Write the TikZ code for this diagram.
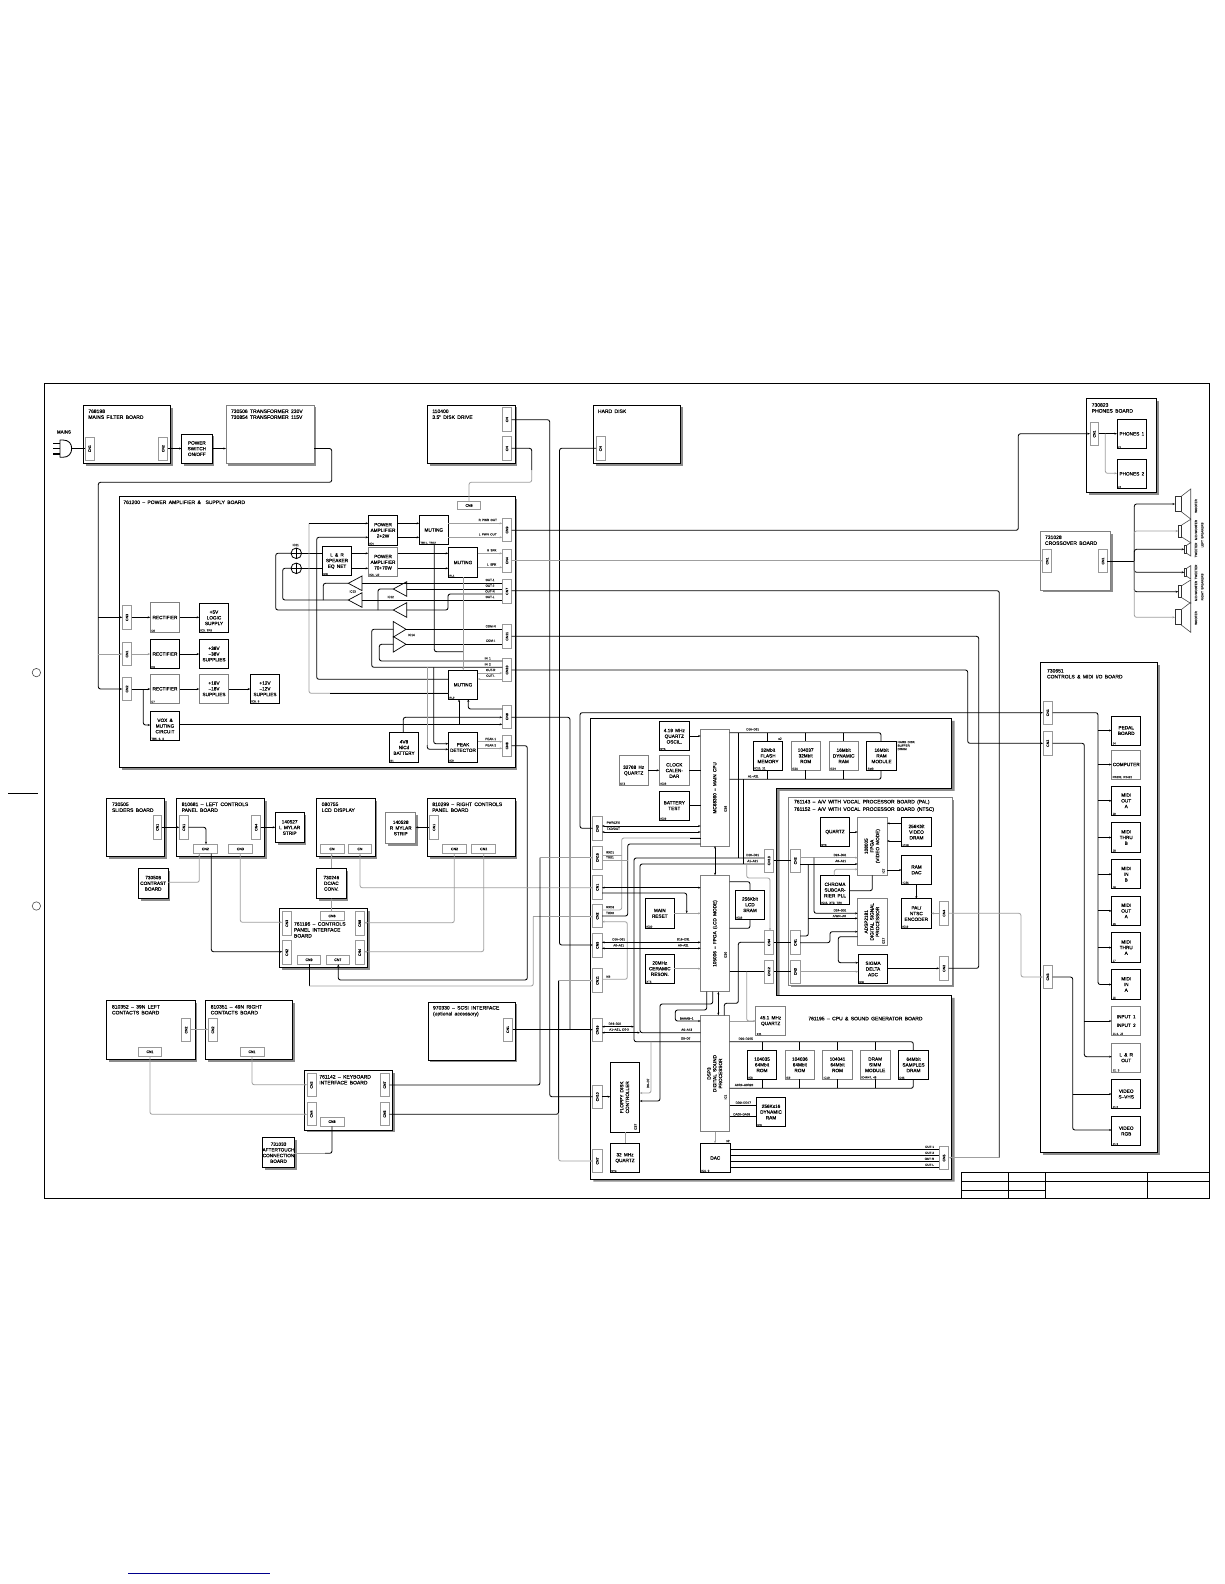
\documentclass[tikz,border=0pt]{standalone}
\usepackage{fontspec}
\setmainfont{Liberation Sans}[FakeBold=0.2,WordSpace=1.7]
\usetikzlibrary{arrows.meta,shadows}
\newcount\autoN
\def\pE#1#2{#1.east|-0,#2}
\def\pW#1#2{#1.west|-0,#2}
\def\pN#1#2{#2,0|-#1.north}
\def\pS#1#2{#2,0|-#1.south}
\tikzset{
 base/.style={inner sep=0pt,outer sep=0pt},
 ln/.style={line width=.85pt,draw=black,line join=round},
 gl/.style={line width=.8pt,draw=gray!75,line join=round},
 rc/.style={rounded corners=2.2pt},
 arr/.style={-{Stealth[length=2.6pt,width=2pt]}},
 rar/.style={{Stealth[length=2.6pt,width=2pt]}-},
 bar/.style={{Stealth[length=2.6pt,width=2pt]}-{Stealth[length=2.6pt,width=2pt]}},
 bk/.style={base,draw=black,fill=white,line width=.9pt,align=center,font=\fontsize{4.7}{5.7}\selectfont},
 gb/.style={bk,draw=gray},
 sbk/.style={bk,drop shadow={shadow xshift=2.4pt,shadow yshift=-2.4pt,fill=gray!90,opacity=1}},
 sgb/.style={sbk,draw=gray},
 cnb/.style={base,draw=gray!80,line width=.7pt,fill=white,font=\fontsize{3.5}{4}\selectfont},
 ics/.style={base,font=\fontsize{2.8}{3.2}\selectfont,text=black!80,align=left},
 ttl/.style={base,anchor=north west,align=left,font=\fontsize{5}{5.9}\selectfont},
 sm/.style={base,font=\fontsize{3}{3.5}\selectfont,text=black!85},
}
\newcommand{\mk}[7][bk]{\pgfmathsetmacro\bxW{#5-#3}\pgfmathsetmacro\bxH{#6-#4}\pgfmathsetmacro\bxX{(#3+#5)/2}\pgfmathsetmacro\bxY{(#4+#6)/2}\node[#1,minimum width=\bxW pt,minimum height=\bxH pt] (#2) at (\bxX,\bxY) {#7};}
\newcommand{\bx}[8][bk]{\mk[#1]{#2}{#3}{#4}{#5}{#6}{#7}\node[ics,anchor=south west] (#2-ic) at ([shift={(1pt,.6pt)}]#2.south west) {#8};}
\newcommand{\brd}[6][sbk]{\mk[#1]{#2}{#3}{#4}{#5}{#6}{}}
\newcommand{\cnv}[6]{\mk[cnb]{#1}{#2}{#3}{#4}{#5}{\rotatebox{90}{#6}}}
\newcommand{\cnh}[6]{\mk[cnb]{#1}{#2}{#3}{#4}{#5}{#6}}
\newcommand{\tl}[3]{\global\advance\autoN by 1 \node[ttl] (t\the\autoN) at (#1,#2) {#3};}
\newcommand{\lb}[3]{\global\advance\autoN by 1 \node[sm] (t\the\autoN) at (#1,#2) {#3};}
\newcommand{\lbr}[3]{\global\advance\autoN by 1 \node[sm,rotate=90] (t\the\autoN) at (#1,#2) {#3};}
\newcommand{\rt}[1]{\rotatebox{90}{\begin{tabular}{@{}c@{}}#1\end{tabular}}}
\newcommand{\tri}[5]{\coordinate (#1-t) at (#2,#4);\coordinate (#1-b) at (#3,#4);\draw[line width=.7pt,fill=white] (#2,#4) -- (#3,{#4-#5}) -- (#3,{#4+#5}) -- cycle;}
\newcommand{\spk}[6]{\coordinate (#1) at (#3,#2);\draw[line width=.7pt,draw=black!80] (#3,{#2-#5}) rectangle (#4,{#2+#5});\draw[line width=.6pt,draw=black!70] (#4,{#2-#5}) -- (1190.7,{#2-#6}) -- (1190.7,{#2+#6}) -- (#4,{#2+#5});}
\begin{document}
\begin{tikzpicture}[x=1pt,y=-1pt]
\useasboundingbox (0,0) rectangle (1224,1584);
\fill[white] (0,0) rectangle (1224,1584);
% page marks
\draw[line width=.6pt,draw=black!70] (36.4,672.6) circle[radius=4.2];
\draw[line width=.6pt,draw=black!70] (36.4,906) circle[radius=4.2];
\draw[line width=.6pt] (8,793) -- (38,793);
\draw[line width=.7pt,draw=blue!55!black] (128,1573.5) -- (270,1573.5);
% frame and title block
\draw[line width=.9pt] (44,383.6) rectangle (1209.3,1198.6);
\draw[line width=.8pt] (961.3,1198.6) -- (961.3,1172.3) -- (1209.3,1172.3);
\draw[line width=.8pt] (961.3,1181.3) -- (1209.3,1181.3);
\draw[line width=.8pt] (961.3,1190) -- (1045.3,1190);
\draw[line width=.8pt] (1008.3,1172.3) -- (1008.3,1198.6);
\draw[line width=.8pt] (1045.3,1172.3) -- (1045.3,1198.6);
\draw[line width=.8pt] (1147.3,1172.3) -- (1147.3,1198.6);
% ---------- top row
\brd{mains}{83.3}{405.3}{170.7}{463.3}
\tl{88.3}{409.5}{768198\\MAINS FILTER BOARD}
\cnv{mcn1}{85}{437.3}{94.3}{460}{CN1}
\cnv{mcn2}{158.7}{437.3}{167.7}{460}{CN2}
\bx[sbk]{psw}{181.7}{434}{212}{463.3}{POWER\\SWITCH\\ON/OFF}{}
\brd[sgb]{trf}{226}{405}{314}{463.3}
\tl{231}{409.5}{730506 TRANSFORMER 230V\\730854 TRANSFORMER 115V}
\brd{disk}{427.3}{405}{515}{463.3}
\tl{432.3}{409.5}{110400\\3.5" DISK DRIVE}
\cnv{dcn1}{502.3}{407.7}{511.7}{431.7}{CN}
\cnv{dcn2}{502.3}{436.7}{511.7}{460.7}{CN}
\brd{hd}{593.8}{405}{680.7}{463.3}
\tl{598}{409.5}{HARD DISK}
\cnv{hdcn}{596}{436.7}{605}{460.7}{CN}
\brd{phb}{1086.7}{398.7}{1156.7}{492.3}
\tl{1091.7}{403.2}{730823\\PHONES BOARD}
\cnv{phcn}{1090}{422.3}{1098.7}{445.7}{CN1}
\bx{ph1}{1117}{419}{1146.7}{448.7}{PHONES 1}{J1}
\bx{ph2}{1117}{459}{1146.7}{488.7}{PHONES 2}{J2}
\brd[sgb]{xov}{1040.3}{531.7}{1110.7}{590}
\tl{1045}{535.5}{731028\\CROSSOVER BOARD}
\cnv{xcn1}{1042.7}{549.3}{1051.7}{572.7}{CN1}
\cnv{xcn2}{1098.7}{549.3}{1107.3}{572.7}{CN1}
% plug
\coordinate (plugout) at (71.7,448.5);
\node[base,font=\fontsize{4.4}{5}\selectfont] (mainslab) at (64,432) {MAINS};
\draw[ln,fill=white] (60,440) -- (63,440) .. controls (69,440) and (71.7,444) .. (71.7,448.5) .. controls (71.7,453) and (69,457.3) .. (63,457.3) -- (60,457.3) -- cycle;
\draw[line width=1.5pt] (53,443.5) -- (60,443.5) (53,448.7) -- (60,448.7) (53,454) -- (60,454);
% speakers
\spk{sa}{504}{1175}{1181}{7.5}{15}
\spk{sb}{531}{1178.3}{1181.7}{6}{11.7}
\spk{sc}{549.3}{1184.3}{1186.7}{4}{6.7}
\spk{sd}{572.3}{1184.3}{1186.7}{4}{6.7}
\spk{se}{591.7}{1178.3}{1181.7}{6}{11.7}
\spk{sf}{617.3}{1175}{1181}{7.5}{15}
\lbr{1196}{506}{WOOFER}\lbr{1196}{530}{MID-WOOFER}\lbr{1196}{550}{TWEETER}
\lbr{1196}{572}{TWEETER}\lbr{1196}{591}{MID-WOOFER}\lbr{1196}{618}{WOOFER}
\lbr{1202.3}{535}{LEFT SPEAKERS}\lbr{1202.3}{587}{RIGHT SPEAKERS}
% ---------- power board
\brd{pwr}{119.3}{496.3}{515}{767.3}
\tl{123.3}{500.5}{761200 -- POWER AMPLIFIER \&\ \ SUPPLY BOARD}
\cnh{pcn8}{457.3}{501.7}{480.7}{509.3}{CN8}
\cnv{pcn9}{502.3}{518.3}{511.7}{541.7}{CN9}
\cnv{pcn4}{502.3}{549}{511.7}{572.3}{CN4}
\cnv{pcn7}{502.3}{579.3}{511.7}{603.3}{CN7}
\cnv{pcn11}{502.3}{624.3}{511.7}{648.3}{CN11}
\cnv{pcn10}{502.3}{658.3}{511.7}{681.7}{CN10}
\cnv{pcn6}{502.3}{705}{511.7}{728.3}{CN6}
\cnv{pcn8b}{502.3}{735}{511.7}{756.7}{CN8}
\cnv{pcn3}{122.3}{605.7}{131.7}{629.3}{CN3}
\cnv{pcn1}{122.3}{642.3}{131.7}{665.7}{CN1}
\cnv{pcn2}{122.3}{677.3}{131.7}{700.7}{CN2}
\bx[gb]{rec1}{150.3}{602.7}{179.7}{632.3}{RECTIFIER}{D8}
\bx{rec2}{150.3}{639.3}{179.7}{668.7}{RECTIFIER}{D5}
\bx[gb]{rec3}{150.3}{674.3}{179.7}{703.3}{RECTIFIER}{D7}
\bx{sup5}{199.3}{603.3}{228.7}{632.3}{+5V\\LOGIC\\SUPPLY}{IC3, TR9}
\bx{sup38}{199.3}{639.3}{228.7}{668.7}{+38V\\--38V\\SUPPLIES}{}
\bx[gb]{sup18}{199.3}{674.3}{228.7}{703.3}{+18V\\--18V\\SUPPLIES}{}
\bx{sup12}{250.3}{674.3}{279.7}{703.3}{+12V\\--12V\\SUPPLIES}{IC8, 9}
\bx{vox}{150.3}{711.3}{179.7}{740.7}{VOX \&\\MUTING\\CIRCUIT}{TR5, 6, 3}
\bx{pa1}{368.3}{515.3}{397.7}{545.3}{POWER\\AMPLIFIER\\2+2W}{IC4}
\bx{mut1}{419.3}{515.3}{448.3}{544.7}{MUTING}{TR11, TR12}
\bx{lr}{322.3}{546.3}{351.7}{575.7}{L \& R\\SPEAKER\\EQ NET}{IC8}
\bx[gb]{pa2}{368.3}{547.7}{397.7}{576.7}{POWER\\AMPLIFIER\\70+70W}{IC6, U2}
\bx{mut2}{448.3}{547.7}{477.7}{577.3}{MUTING}{RL1}
\bx{mut3}{448.3}{670.3}{477.7}{699.3}{MUTING}{RL2}
\bx{bat}{389.3}{732.7}{418.7}{762.3}{4V8\\NiCd\\BATTERY}{B1}
\bx{peak}{448.3}{732.7}{477.7}{762.3}{PEAK\\DETECTOR}{IC9}
\node[base,circle,draw=black,line width=.8pt,fill=white,minimum size=10.6pt] (s1) at (296.3,553.3) {};
\node[base,circle,draw=black,line width=.8pt,fill=white,minimum size=10.6pt] (s2) at (296.3,568.3) {};
\draw[line width=.6pt] (s1.west) -- (s1.east) (s1.north) -- (s1.south) (s2.west) -- (s2.east) (s2.north) -- (s2.south);
\lb{295.7}{545}{IC11}
\tri{t13a}{348.3}{362}{583.3}{7.3}
\tri{t13b}{348.3}{362}{600}{7.3}
\tri{t12a}{393.3}{406.7}{589}{7.3}
\tri{t12b}{393.3}{406.7}{610}{7.3}
\tri{t14a}{406}{393.3}{629.3}{7.8}
\tri{t14b}{406}{393.3}{644.3}{7.8}
\lb{352.7}{591.5}{IC13}\lb{390.7}{597}{IC12}\lb{411.5}{635}{IC14}
\draw[ln,arr] (\pE{pcn3}{617.3}) -- (\pW{rec1}{617.3});
\draw[gl,arr] (\pE{pcn1}{654}) -- (\pW{rec2}{654});
\draw[ln,arr] (\pE{pcn2}{689}) -- (\pW{rec3}{689});
\draw[ln,arr] (\pE{rec1}{617.3}) -- (\pW{sup5}{617.3});
\draw[ln,arr] (\pE{rec2}{654}) -- (\pW{sup38}{654});
\draw[ln,arr] (\pE{rec3}{689}) -- (\pW{sup18}{689});
\draw[ln,arr] (\pE{sup18}{689}) -- (\pW{sup12}{689});
\coordinate (jv) at (143.3,689);
\draw[ln,rc,arr] (jv) -- (143.3,725) -- (\pW{vox}{725});
\draw[ln,arr] (\pE{vox}{724.3}) -- (\pW{pcn6}{724.3});
\coordinate (jv2) at (459,724.3);
\draw[ln,arr] (jv2) -- (\pS{mut3}{459});
\draw[ln,rc,arr] (\pN{bat}{403.3}) -- (403.3,717.3) -- (\pW{pcn6}{717.3});
\draw[ln,rc,arr] (\pW{pcn6}{709}) -- (468.3,709) -- (\pS{mut3}{468.3});
\draw[ln,arr] (\pE{pa1}{523.3}) -- (\pW{mut1}{523.3});
\draw[ln,arr] (\pE{pa1}{537.3}) -- (\pW{mut1}{537.3});
\draw[gl,arr] (\pE{mut1}{523.3}) -- (\pW{pcn9}{523.3});
\draw[gl,arr] (\pE{mut1}{537.3}) -- (\pW{pcn9}{537.3});
\draw[ln,arr] (\pE{lr}{553.3}) -- (\pW{pa2}{553.3});
\draw[ln,arr] (\pE{lr}{568.3}) -- (\pW{pa2}{568.3});
\draw[ln,arr] (\pE{pa2}{553.3}) -- (\pW{mut2}{553.3});
\draw[ln,arr] (\pE{pa2}{568.3}) -- (\pW{mut2}{568.3});
\draw[gl,arr] (\pE{mut2}{553.3}) -- (\pW{pcn4}{553.3});
\draw[gl,arr] (\pE{mut2}{567.3}) -- (\pW{pcn4}{567.3});
\draw[ln] (s1) ++(5.3pt,0) -- (\pW{lr}{553.3});
\draw[ln] (s2) ++(5.3pt,0) -- (\pW{lr}{568.3});
\draw[gl,rc] (\pW{mut3}{693.3}) -- (309,693.3) -- (309,523.3);
\draw[ln,arr] (309,523.3) -- (\pW{pa1}{523.3});
\draw[ln] (330,693.3) -- (\pW{mut3}{693.3});
\draw[ln,rc,arr] (\pW{mut3}{679.3}) -- (316.7,679.3) -- (316.7,537.3) -- (\pW{pa1}{537.3});
\draw[ln,rc] (s1.west) -- (275.7,553.3) -- (275.7,610) -- (t12b-t);
\draw[ln,rc] (s2.west) -- (282.7,568.3) -- (282.7,600) -- (t13b-t);
\coordinate (j12) at (378,610);
\draw[ln,rc] (j12) -- (378,589) -- (t12a-t);
\coordinate (j13) at (323.3,600);
\draw[ln,rc] (j13) -- (323.3,583.3) -- (t13a-t);
\draw[ln] (t13a-b) -- (\pW{pcn7}{583.3});
\draw[ln] (t12a-b) -- (\pW{pcn7}{589});
\draw[ln,rc] (t12b-b) -- (448,610) -- (448,594) -- (\pW{pcn7}{594});
\draw[ln] (t13b-b) -- (\pW{pcn7}{600});
\draw[ln] (t14a-t) -- (\pW{pcn11}{629.3});
\draw[ln] (t14b-t) -- (\pW{pcn11}{644.3});
\draw[ln,rc] (t14a-b) -- (371.7,629.3) -- (371.7,667.3) -- (\pW{pcn10}{667.3});
\draw[ln,rc] (t14b-b) -- (379.3,644.3) -- (379.3,661) -- (\pW{pcn10}{661});
\draw[ln,rc] (\pS{mut1}{434.3}) -- (434.3,651.7) -- (463.3,651.7);
\draw[gl,arr] (\pS{mut2}{463.3}) -- (\pN{mut3}{463.3});
\draw[gl,arr] (\pE{mut3}{673}) -- (\pW{pcn10}{673});
\draw[gl,arr] (\pW{pcn10}{679}) -- (\pE{mut3}{679});
\coordinate (jp1) at (433.7,667.3);
\coordinate (jp2) at (427.3,667.3);
\draw[ln,rc,arr] (jp1) -- (433.7,743.7) -- (\pW{peak}{743.7});
\draw[gl] (jp2) -- (427.3,745);
\draw[ln,rc,arr] (427.3,745) -- (427.3,749.3) -- (\pW{peak}{749.3});
\draw[gl,arr] (\pE{peak}{741.7}) -- (\pW{pcn8b}{741.7});
\draw[gl,arr] (\pE{peak}{748.3}) -- (\pW{pcn8b}{748.3});
\lb{487.7}{520}{R PWR OUT}\lb{487.7}{534.3}{L PWR OUT}\lb{491.7}{550.3}{R SPK}\lb{491.7}{564.5}{L SPK}
\lb{490}{580}{OUT-1}\lb{490}{585.7}{OUT-2}\lb{490}{591.3}{OUT-R}\lb{490}{597}{OUT-L}
\lb{490.7}{626.3}{COM-R}\lb{490.7}{640.7}{COM-L}\lb{487.7}{658.3}{IN 1}\lb{487.7}{664.3}{IN 2}
\lb{490.7}{670}{OUT-R}\lb{490.7}{675.7}{OUT-L}\lb{490.7}{739}{PEAK-1}\lb{490.7}{745.3}{PEAK-2}
% ---------- controls row
\brd{sli}{106.7}{798.3}{164.7}{856.7}
\tl{112}{802.5}{730505\\SLIDERS BOARD}
\cnv{slcn}{153}{815.7}{161.7}{839}{CN1}
\brd{lft}{176.7}{798.3}{264.3}{856.7}
\tl{181.7}{802.5}{810681 -- LEFT CONTROLS\\PANEL BOARD}
\cnv{lcn1}{179.3}{815.7}{188.3}{839}{CN1}
\cnv{lcn4}{251.7}{815.7}{260.7}{839}{CN4}
\cnh{lcn2}{193.3}{844.3}{217.3}{853.7}{CN2}
\cnh{lcn3}{228.3}{844.3}{252.3}{853.7}{CN3}
\bx[sbk]{lmy}{275.3}{812.7}{304}{842.3}{140527\\L MYLAR\\STRIP}{}
\brd{lcd}{316.7}{798.3}{375}{856.7}
\tl{321.7}{802.5}{080755\\LCD DISPLAY}
\cnh{lcdc1}{320}{844.3}{344}{853.7}{CN}
\cnh{lcdc2}{348.3}{844.3}{371.7}{853.7}{CN}
\bx[sgb]{rmy}{385.7}{812.7}{415.7}{843.3}{140528\\R MYLAR\\STRIP}{}
\brd{rgt}{427.3}{798.3}{515}{856.7}
\tl{432.3}{802.5}{810299 -- RIGHT CONTROLS\\PANEL BOARD}
\cnv{rcn1}{429.3}{815.7}{438.7}{839}{CN1}
\cnh{rcn2}{442.3}{844.3}{466.7}{853.7}{CN2}
\cnh{rcn3}{471.7}{844.3}{495.7}{853.7}{CN2}
\bx[sbk]{ctr}{138.3}{868.3}{168}{898.3}{730508\\CONTRAST\\BOARD}{}
\bx[sbk]{dca}{316.7}{868.3}{346}{898.3}{730246\\DC/AC\\CONV.}{}
\brd{ifb}{279.3}{908.3}{367.3}{967.7}
\tl{294}{922.2}{761196 -- CONTROLS\\PANEL INTERFACE\\BOARD}
\cnh{icn6}{320}{911.7}{344}{920.3}{CN6}
\cnv{icn3}{282.3}{911.7}{291.3}{935}{CN3}
\cnv{icn2}{282.3}{940.7}{291.3}{964.3}{CN2}
\cnv{icn8}{355}{911.7}{364.3}{935}{CN8}
\cnv{icn4}{355}{940.7}{364.3}{964.3}{CN4}
\cnh{icn9}{297.3}{955.3}{320.7}{964.3}{CN9}
\cnh{icn7}{326}{955.3}{349.7}{964.3}{CN7}
% ---------- contacts row
\brd{lct}{106.7}{1000.3}{195}{1059.3}
\tl{112}{1005}{810352 -- 39N LEFT\\CONTACTS BOARD}
\cnv{lcc2}{181.7}{1018.3}{190.7}{1041.7}{CN2}
\cnh{lcc1}{138.3}{1047.3}{161.7}{1056.3}{CN1}
\brd{rct}{205.7}{1000.3}{292.7}{1059.3}
\tl{210.7}{1005}{810351 -- 49N RIGHT\\CONTACTS BOARD}
\cnv{rcc2}{208.3}{1018.3}{217.3}{1041.7}{CN2}
\cnh{rcc1}{240}{1047.3}{264}{1056.3}{CN1}
\brd{kbd}{304.3}{1070.7}{392.7}{1130}
\tl{319.3}{1075}{761142 -- KEYBOARD\\INTERFACE BOARD}
\cnv{kcn2}{307}{1073.3}{316}{1096.7}{CN2}
\cnv{kcn4}{307}{1102.3}{316}{1125.7}{CN4}
\cnv{kcn7}{380}{1073.3}{389.3}{1096.7}{CN7}
\cnv{kcn6}{380}{1102.3}{389.3}{1125.7}{CN6}
\cnh{kcn8}{320}{1117}{344}{1126.3}{CN8}
\bx[sbk]{aft}{263.3}{1137.7}{293.7}{1167.7}{731033\\AFTERTOUCH\\CONNECTION\\BOARD}{}
\brd{scs}{428}{1002}{515}{1060}
\tl{433}{1006}{970330 -- SCSI INTERFACE\\(optional accessory)}
\cnv{scn}{503}{1018}{512.5}{1041}{CN1}
% ---------- CPU board
\fill[gray!90] (593.3,720.8) -- (954.7,720.8) -- (954.7,790.8) -- (779.7,790.8) -- (779.7,997.8) -- (954.7,997.8) -- (954.7,1181.5) -- (593.3,1181.5) -- cycle;
\draw[line width=.9pt,fill=white] (590.3,718.3) -- (951.7,718.3) -- (951.7,788.3) -- (776.7,788.3) -- (776.7,995.3) -- (951.7,995.3) -- (951.7,1179) -- (590.3,1179) -- cycle;
\tl{808.3}{1016.8}{761195 -- CPU \& SOUND GENERATOR BOARD}
\brd[sgb]{av}{788.7}{797.7}{952}{985}
\tl{794}{799.8}{761143 -- A/V WITH VOCAL PROCESSOR BOARD (PAL)}
\tl{794}{807.2}{761152 -- A/V WITH VOCAL PROCESSOR BOARD (NTSC)}
\cnv{c3}{592.7}{816.7}{602}{840.7}{CN3}
\cnv{c15}{592.7}{846}{602}{869.3}{CN15}
\cnv{c1}{592.7}{875.3}{602}{899.3}{CN1}
\cnv{c2}{592.7}{904.3}{602}{927.7}{CN2}
\cnv{c9}{592.7}{933.3}{602}{957.3}{CN9}
\cnv{c11}{592.7}{968.3}{602}{992.7}{CN11}
\cnv{c16}{592.7}{1018.3}{602}{1041.7}{CN16}
\cnv{c10}{592.7}{1085.3}{602}{1108.3}{CN10}
\cnv{c7}{592.7}{1149.3}{602}{1172.7}{CN7}
\cnv{c13}{764.3}{849.3}{773.7}{872.3}{CN13}
\cnv{c4}{764.3}{930.7}{773.7}{954.3}{CN4}
\cnv{c12}{764.3}{960}{773.7}{983.3}{CN12}
\cnv{c5}{939.3}{1146.3}{948.7}{1169.7}{CN5}
\bx{q419}{659.3}{721.7}{689.3}{750.7}{4.19 MHz\\QUARTZ\\OSCIL.}{XT5}
\bx[gb]{q327}{619}{755.7}{648.3}{785.3}{32768 Hz\\QUARTZ}{XT3}
\bx[gb]{clk}{659.3}{755.7}{689.3}{785.3}{CLOCK\\CALEN-\\DAR}{IC28}
\bx{batt}{659.3}{791}{689.3}{820.3}{BATTERY\\TEST}{IC29}
\mk[gb]{cpu}{700.7}{729.7}{729.7}{846}{\rt{MC68360 -- MAIN CPU}}
\lbr{725.5}{809}{IC28}
\mk[gb]{fpga}{700.7}{875.3}{729.7}{991.7}{\rt{105006 -- FPGA (LCD MODE)}}
\lbr{725.5}{955}{IC30}
\mk[gb]{dsp}{700.7}{1015.3}{729.7}{1131.7}{\rt{DSP3\\DIGITAL SOUND\\PROCESSOR}}
\lbr{725.5}{1097}{IC1}
\bx{rst}{645.3}{898.3}{674.3}{928.3}{MAIN\\RESET}{IC30}
\bx{r20}{645.3}{954}{674.3}{983.3}{20MHz\\CERAMIC\\RESON.}{XT5}
\bx{sram}{735.3}{890}{764.7}{919.3}{256Kbit\\LCD\\SRAM}{IC33}
\mk{fdc}{610.3}{1062.3}{639.7}{1132.3}{\rt{FLOPPY DISK\\CONTROLLER}}
\lbr{635.5}{1127}{IC27}
\bx{q32}{610.3}{1143.3}{639.7}{1172.7}{32 MHz\\QUARTZ}{XT4}
\bx{dac}{700.3}{1143.3}{730.3}{1172.7}{DAC}{IC4, 9}
\bx[gb]{q45}{755.7}{1006.3}{785.7}{1035.7}{45.1 MHz\\QUARTZ}{X11}
\bx{flash}{753.3}{741.3}{782.7}{770.3}{32Mbit\\FLASH\\MEMORY}{IC20, 21}
\bx[gb]{rom32}{791}{741.3}{820.3}{770.3}{104037\\32Mbit\\ROM}{IC25}
\bx[gb]{dyn}{829}{741.3}{858.3}{770.3}{16Mbit\\DYNAMIC\\RAM}{IC24}
\bx{ramm}{866.7}{741.3}{896.3}{770.3}{16Mbit\\RAM\\MODULE}{SM3}
\global\advance\autoN by 1 \node[sm,anchor=north west,align=left] (t\the\autoN) at (897.7,741) {HARD DISK\\BUFFER\\DRAM};
\lb{780}{738.7}{x2}\lb{728}{1141}{x2}
\bx{m1}{747.3}{1050.3}{776.7}{1079.3}{104035\\64Mbit\\ROM}{IC8}
\bx[gb]{m2}{785}{1050.3}{814.7}{1079.3}{104036\\64Mbit\\ROM}{IC9}
\bx[gb]{m3}{822.7}{1050.3}{852.3}{1079.3}{104041\\64Mbit\\ROM}{IC10}
\bx[gb]{m4}{860.3}{1050.3}{890}{1079.3}{DRAM\\SIMM\\MODULE}{IC44/47, 48}
\bx{m5}{898.3}{1050.3}{928.7}{1079.3}{64Mbit\\SAMPLES\\DRAM}{D45}
\bx{dram}{756.3}{1097.3}{785.7}{1126.7}{256Kx16\\DYNAMIC\\RAM}{IC6}
% ---------- AV blocks
\bx{avq}{820.3}{817.3}{849.7}{846.7}{QUARTZ}{XT3}
\mk[gb]{avf}{857.7}{817}{887}{875.3}{\rt{108005\\FPGA\\(VIDEO MODE)}}
\lbr{883.5}{871}{IC7}
\bx{avd}{901.7}{817.3}{931.3}{846.7}{256Kbit\\VIDEO\\DRAM}{IC16}
\bx{avr}{901.7}{855.3}{931.3}{884.3}{RAM\\DAC}{IC25}
\bx{avc}{820.3}{875.3}{849.7}{904.7}{CHROMA\\SUBCAR-\\RIER PLL}{IC15, XT2, TR6}
\bx{avp}{901.3}{898.7}{931.3}{928.3}{PAL/\\NTSC\\ENCODER}{IC19}
\mk[gb]{ava}{857.7}{898.3}{887}{945.3}{\rt{ADSP2181\\DIGITAL SIGNAL\\PROCESSOR}}
\lbr{883.5}{941}{IC17}
\bx{avs}{858.3}{954.3}{887.7}{983.7}{SIGMA\\DELTA\\ADC}{IC8}
\cnv{av2}{790.7}{849.3}{800}{872.3}{CN2}
\cnv{av1}{790.7}{930.7}{800}{954.3}{CN1}
\cnv{av3}{790.7}{960}{800}{983.3}{CN3}
\cnv{av4}{939.3}{901.3}{948.7}{925}{CN4}
\cnv{av5}{939.3}{956.7}{948.7}{980}{CN2}
% ---------- I/O board
\brd{io}{1040.7}{662.6}{1157.7}{1152.7}
\tl{1047}{669}{730651\\CONTROLS \& MIDI I/O BOARD}
\cnv{ioc1}{1043}{701}{1052.5}{724.4}{CN1}
\cnv{ioc2}{1043}{731.6}{1052.5}{755}{CN2}
\cnv{ioc3}{1043}{965.3}{1052.5}{988.7}{CN3}
\bx{i1}{1111.7}{716}{1140.7}{745}{PEDAL\\BOARD}{J4}
\bx[gb]{i2}{1111.7}{750}{1140.7}{779}{COMPUTER}{RS232, RS422}
\bx{i3}{1111.7}{786.1}{1140.7}{815.5}{MIDI\\OUT\\A}{J9}
\bx{i4}{1111.7}{822.8}{1140.7}{852.2}{MIDI\\THRU\\B}{J8}
\bx{i5}{1111.7}{859.5}{1140.7}{888.9}{MIDI\\IN\\B}{J8}
\bx{i6}{1111.7}{896.2}{1140.7}{925.6}{MIDI\\OUT\\A}{J6}
\bx{i7}{1111.7}{932.9}{1140.7}{962.3}{MIDI\\THRU\\A}{J7}
\bx{i8}{1111.7}{969.6}{1140.7}{999.3}{MIDI\\IN\\A}{J5}
\bx[gb]{i9}{1111.7}{1006.3}{1140.7}{1035.7}{INPUT 1\\[3pt]INPUT 2}{J1.4, J2}
\bx[gb]{i10}{1111.7}{1043}{1140.7}{1072.3}{L \& R\\OUT}{J2, 3}
\bx{i11}{1111.7}{1079.3}{1140.7}{1108.7}{VIDEO\\S--VHS}{J1.2}
\bx{i12}{1111.7}{1116.3}{1140.7}{1145.7}{VIDEO\\RGB}{J1.3}
% ---------- connectors: top row
\draw[ln] (plugout) -- (\pW{mcn1}{448.5});
\draw[ln,arr] (\pE{mcn2}{448.5}) -- (\pW{psw}{448.5});
\draw[ln,arr] (\pE{psw}{448.5}) -- (\pW{trf}{448.5});
\draw[ln,rc,arr] (\pE{trf}{448.5}) -- (331.7,448.5) -- (331.7,482.3) -- (98.3,482.3) -- (98.3,689) -- (\pW{pcn2}{689});
\coordinate (r1) at (98.3,617.3);\coordinate (r2) at (98.3,654);
\draw[ln,arr] (r1) -- (\pW{pcn3}{617.3});
\draw[gl,arr] (r2) -- (\pW{pcn1}{654});
\draw[ln,rc] (\pE{dcn1}{419.7}) -- (549.7,419.7) -- (549.7,1096.7) -- (\pW{c10}{1096.7});
\draw[ln,rc] (\pE{dcn2}{448.3}) -- (531.7,448.3) -- (531.7,470);
\draw[gl,rc] (531.7,470) -- (531.7,482.3) -- (469,482.3) -- (\pN{pcn8}{469});
\draw[ln,rc,arr] (\pW{hdcn}{448.3}) -- (559.5,448.3) -- (559.5,945) -- (\pW{c9}{945});
\draw[ln,rc,arr] (\pE{pcn9}{530.3}) -- (1018.3,530.3) -- (1018.3,433.7) -- (\pW{phcn}{433.7});
\draw[gl,arr] (\pE{pcn4}{560.7}) -- (\pW{xcn1}{560.7});
\draw[ln,arr] (\pE{phcn}{433.7}) -- (\pW{ph1}{433.7});
\coordinate (jph) at (1105.3,433.7);
\draw[gl,rc,arr] (jph) -- (1105.3,473.3) -- (\pW{ph2}{473.3});
% speakers
\coordinate (jsp) at (1134.3,561);
\draw[ln] (\pE{xcn2}{561}) -- (jsp);
\draw[ln,rc,arr] (jsp) -- (1134.3,504) -- (sa);
\draw[gl,rc,arr] (jsp) -- (1134.3,531) -- (sb);
\draw[ln,rc,arr] (jsp) -- (1134.3,549.3) -- (sc);
\draw[ln,rc,arr] (jsp) -- (1134.3,572.3) -- (sd);
\draw[ln,rc,arr] (jsp) -- (1134.3,591.7) -- (se);
\draw[gl,rc,arr] (jsp) -- (1134.3,617.3) -- (sf);
% long runs
\draw[ln,rc] (\pE{pcn6}{717.3}) -- (570,717.3) -- (570,1029.7);
\draw[ln,rc,arr] (\pE{pcn8b}{745.7}) -- (527.3,745.7) -- (527.3,980) -- (338.3,980) -- (\pS{icn7}{338.3});
\draw[ln,rc,arr] (\pE{pcn10}{670}) -- (967.7,670) -- (967.7,743.3) -- (\pW{ioc2}{743.3});
\draw[ln,rc] (\pE{pcn11}{636.3}) -- (978.7,636.3) -- (978.7,968.3) -- (\pE{av5}{968.3});
\draw[ln,rc] (\pE{pcn7}{590.7}) -- (999.3,590.7) -- (999.3,1157.7);
\draw[gl,rc,arr] (999.3,1157.7) -- (\pE{c5}{1157.7});
\draw[ln,rc,arr] (\pW{c3}{828.3}) -- (580,828.3) -- (580,712.7) -- (\pW{ioc1}{712.7});
\draw[gl,rc,arr] (\pE{av4}{913.3}) -- (1021,913.3) -- (1021,977) -- (\pW{ioc3}{977});
% controls row
\draw[ln,arr] (\pE{slcn}{827.3}) -- (\pW{lcn1}{827.3});
\draw[ln,rc,arr] (\pE{lcn1}{827.3}) -- (206,827.3) -- (\pN{lcn2}{206});
\draw[ln,arr] (\pE{lcn4}{827.3}) -- (\pW{lmy}{827.3});
\draw[gl,rc,arr] (\pE{ctr}{882.3}) -- (199.3,882.3) -- (\pS{lcn2}{199.3});
\draw[gl,rc,arr] (\pS{lcn3}{240.3}) -- (240.3,922.3) -- (\pW{icn3}{922.3});
\draw[ln,rc,arr] (\pS{lcn2}{211.3}) -- (211.3,951.7) -- (\pW{icn2}{951.7});
\draw[gl,arr] (\pN{dca}{331.7}) -- (\pS{lcdc1}{331.7});
\draw[gl,arr] (\pN{icn6}{331.7}) -- (\pS{dca}{331.7});
\draw[gl,rc,bar] (\pS{lcdc2}{360}) -- (360,887.7) -- (\pW{c1}{887.7});
\draw[ln,arr] (\pW{rcn1}{827.3}) -- (\pE{rmy}{827.3});
\draw[gl,rc,arr] (\pS{rcn2}{454.3}) -- (454.3,922.7) -- (\pE{icn8}{922.7});
\draw[gl,rc,arr] (\pS{rcn3}{483.7}) -- (483.7,951.7) -- (\pE{icn4}{951.7});
\draw[ln,rc] (\pS{icn9}{309.3}) -- (309.3,986);
\draw[gl,rc] (309.3,986) -- (533.3,986) -- (533.3,916.7);
\draw[gl,rc,arr] (533.3,916.7) -- (\pW{c2}{916.7});
\draw[ln,rc] (\pE{kcn7}{1085}) -- (540,1085) -- (540,857.7);
\draw[gl,rc,arr] (540,857.7) -- (\pW{c15}{857.7});
\draw[ln,rc] (\pE{kcn6}{1114.3}) -- (558.6,1114.3) -- (558.6,980.7);
\draw[gl,rc,arr] (558.6,980.7) -- (\pW{c11}{980.7});
\coordinate (jk7) at (558.6,1114.3);
\draw[gl,rc,arr] (jk7) -- (558.6,1161) -- (\pW{c7}{1161});
\draw[ln,arr] (\pE{scn}{1029.7}) -- (\pW{c16}{1029.7});
\draw[gl,arr] (\pE{lcc2}{1029.3}) -- (\pW{rcc2}{1029.3});
\draw[gl,rc,arr] (\pS{rcc1}{252}) -- (252,1084.7) -- (\pW{kcn2}{1084.7});
\draw[gl,rc,arr] (\pS{lcc1}{150}) -- (150,1114.3) -- (\pW{kcn4}{1114.3});
\draw[gl,rc] (\pE{aft}{1153.3}) -- (325,1153.3);
\draw[ln,rc] (325,1153.3) -- (332,1153.3) -- (\pS{kcn8}{332});
% CPU internal
\draw[ln,arr] (\pE{q419}{736}) -- (\pW{cpu}{736});
\draw[ln,arr] (\pE{q327}{770.3}) -- (\pW{clk}{770.3});
\draw[ln] (\pE{clk}{770.3}) -- (\pW{cpu}{770.3});
\draw[ln] (\pE{batt}{805.3}) -- (\pW{cpu}{805.3});
\draw[ln,bar] (\pE{c3}{826}) -- (\pW{cpu}{826});
\draw[ln,bar] (\pE{c3}{832}) -- (\pW{cpu}{832});
\draw[gl,rc] (\pW{cpu}{838}) -- (621.7,838) -- (621.7,910) -- (\pE{c2}{910});
\draw[ln] (690,838) -- (\pW{cpu}{838});
\draw[ln,rc] (\pW{cpu}{844}) -- (627.7,844) -- (627.7,916) -- (\pE{c2}{916});
\coordinate (j15a) at (621.7,855);\coordinate (j15b) at (627.7,860);
\draw[gl] (\pE{c15}{855}) -- (j15a);
\draw[gl] (\pE{c15}{860}) -- (j15b);
\draw[gl,rc,arr] (\pE{c11}{979.3}) -- (627.3,979.3) -- (627.3,921.7) -- (\pE{c2}{921.7});
\draw[ln,rc] (\pW{c13}{858}) -- (634,858) -- (634,1041.7) -- (\pW{dsp}{1041.7});
\draw[ln,rc] (\pW{c13}{864}) -- (640,864) -- (640,1032.7) -- (\pW{dsp}{1032.7});
\draw[ln,bar] (\pE{c1}{887.7}) -- (\pW{fpga}{887.7});
\draw[ln,rc,arr] (\pE{c1}{893}) -- (686.7,893) -- (686.7,913.3);
\draw[gl,arr] (\pE{rst}{913.3}) -- (\pW{fpga}{913.3});
\draw[ln,bar] (\pE{c9}{942.3}) -- (\pW{fpga}{942.3});
\draw[ln,bar] (\pE{c9}{948.3}) -- (\pW{fpga}{948.3});
\draw[gl,arr] (\pE{r20}{968.7}) -- (\pW{fpga}{968.7});
\draw[ln,bar] (\pS{cpu}{715}) -- (\pN{fpga}{715});
\draw[ln,rc] (\pE{cpu}{732.7}) -- (881,732.7) -- (\pN{ramm}{881});
\draw[ln,rc] (\pE{cpu}{779.3}) -- (881,779.3) -- (\pS{ramm}{881});
\draw[ln] (767.3,732.7) -- (\pN{flash}{767.3});
\draw[ln] (805.7,732.7) -- (\pN{rom32}{805.7});
\draw[ln] (843.3,732.7) -- (\pN{dyn}{843.3});
\draw[ln] (767.3,779.3) -- (\pS{flash}{767.3});
\draw[ln] (805.7,779.3) -- (\pS{rom32}{805.7});
\draw[ln] (843.3,779.3) -- (\pS{dyn}{843.3});
\draw[ln] (738.3,732.7) -- (738.3,858);
\draw[ln] (743.7,779.3) -- (743.7,864);
\draw[ln,rc] (\pE{fpga}{881.7}) -- (750,881.7) -- (\pN{sram}{750});
\draw[ln,rc] (\pS{sram}{750}) -- (750,928.3) -- (\pE{fpga}{928.3});
\draw[gl,rc,arr] (746.7,864) -- (746.7,878) -- (770,878) -- (\pN{c4}{770});
\draw[ln,rc] (\pW{c4}{942.3}) -- (738.3,942.3) -- (738.3,1003.3) -- (724.3,1003.3) -- (\pN{dsp}{724.3});
\draw[ln] (\pE{fpga}{971.7}) -- (\pW{c12}{971.7});
\draw[gl,rc] (746.7,971.7) -- (746.7,1021) -- (\pW{q45}{1021});
\draw[gl,arr] (\pE{dsp}{1021}) -- (\pW{q45}{1021});
\draw[ln,rc,arr] (\pS{fpga}{706.7}) -- (706.7,1010) -- (675.3,1010) -- (675.3,1021) -- (\pW{dsp}{1021});
\draw[ln,rc,arr] (\pS{fpga}{712.7}) -- (712.7,1004) -- (660,1004) -- (660,1101) -- (\pE{fdc}{1101});
\draw[ln,bar] (\pS{fpga}{718.3}) -- (\pN{dsp}{718.3});
\draw[ln,bar] (\pE{c16}{1026.7}) -- (634,1026.7);
\draw[ln,bar] (\pE{c16}{1032.7}) -- (640,1032.7);
\draw[gl,rc,arr] (651,1041.7) -- (651,1093) -- (\pE{fdc}{1093});
\draw[ln,arr] (\pE{c10}{1096.7}) -- (\pW{fdc}{1096.7});
\draw[gl] (\pS{fdc}{625}) -- (\pN{q32}{625});
\draw[gl,arr] (\pS{dsp}{715}) -- (\pN{dac}{715});
\draw[ln,rc] (\pE{dsp}{1041.7}) -- (913.3,1041.7) -- (\pN{m5}{913.3});
\draw[ln,rc] (\pE{dsp}{1088.3}) -- (913.3,1088.3) -- (\pS{m5}{913.3});
\draw[ln] (762.3,1041.7) -- (\pN{m1}{762.3});
\draw[ln] (799.3,1041.7) -- (\pN{m2}{799.3});
\draw[ln] (837.3,1041.7) -- (\pN{m3}{837.3});
\draw[ln] (875.3,1041.7) -- (\pN{m4}{875.3});
\draw[ln] (762.3,1088.3) -- (\pS{m1}{762.3});
\draw[ln] (799.3,1088.3) -- (\pS{m2}{799.3});
\draw[ln] (837.3,1088.3) -- (\pS{m3}{837.3});
\draw[ln] (875.3,1088.3) -- (\pS{m4}{875.3});
\draw[ln] (\pE{dsp}{1105.3}) -- (\pW{dram}{1105.3});
\draw[ln] (\pE{dsp}{1116.7}) -- (\pW{dram}{1116.7});
\draw[ln] (\pE{dac}{1149.3}) -- (\pW{c5}{1149.3});
\draw[ln] (\pE{dac}{1155.3}) -- (\pW{c5}{1155.3});
\draw[ln] (\pE{dac}{1161.3}) -- (\pW{c5}{1161.3});
\draw[ln] (\pE{dac}{1167.3}) -- (\pW{c5}{1167.3});
\lb{752.7}{729.3}{D16--D31}\lb{753.3}{776.3}{A1--A21}\lb{752.7}{855}{D16--D31}\lb{752.7}{861}{A1--A21}
\lb{613.3}{822.7}{PWRCEX}\lb{613.3}{828.7}{TXD/OUT}\lb{610}{852.3}{RXD1}\lb{610}{857.3}{TXD1}
\lb{610}{907.2}{RXD3}\lb{610}{913}{TXD3}\lb{618.7}{939.3}{D16--D31}\lb{618.7}{945.3}{A0--A21}
\lb{683.3}{939.3}{D16--D31}\lb{683.3}{945.3}{A0--A21}\lb{608.3}{976.7}{KB}
\lb{615}{1023.7}{D16--D31}\lb{619}{1029.7}{A1--A21, D0-3}\lb{686.7}{1018.5}{BAHAB--1}
\lb{686.7}{1029.7}{A0--A13}\lb{685.7}{1038.5}{D0--D7}\lbr{648}{1083.3}{D0--D7}
\lb{745.7}{1038.7}{D00--D015}\lb{744}{1085}{A0R0--A0R20}\lb{743.3}{1102.7}{DD0--DD17}\lb{741.7}{1114.3}{DA00--DA08}
\global\advance\autoN by 1 \node[sm,anchor=east] (t\the\autoN) at (934,1146.8) {OUT-1};
\global\advance\autoN by 1 \node[sm,anchor=east] (t\the\autoN) at (934,1152.8) {OUT-2};
\global\advance\autoN by 1 \node[sm,anchor=east] (t\the\autoN) at (934,1158.8) {OUT-R};
\global\advance\autoN by 1 \node[sm,anchor=east] (t\the\autoN) at (934,1164.8) {OUT-L};
% AV internal
\draw[ln] (\pE{c13}{860.3}) -- (\pW{av2}{860.3});
\draw[ln] (\pE{c4}{942.3}) -- (\pW{av1}{942.3});
\draw[ln] (\pE{c12}{971.7}) -- (\pW{av3}{971.7});
\draw[gl,arr] (\pE{av2}{857.7}) -- (\pW{avf}{857.7});
\draw[ln,arr] (\pE{av2}{864}) -- (\pW{avf}{864});
\draw[ln,rc,arr] (814,857.7) -- (814,913.3) -- (\pW{ava}{913.3});
\draw[ln,rc] (808.3,864) -- (808.3,936) -- (\pE{av1}{936});
\coordinate (jav) at (808.3,918.3);
\draw[ln,arr] (jav) -- (\pW{ava}{918.3});
\draw[ln,rc,arr] (\pE{av1}{942.7}) -- (830,942.7) -- (830,931.7) -- (\pW{ava}{931.7});
\draw[ln,rc,arr] (\pW{ava}{936.7}) -- (838.3,936.7) -- (838.3,962.7) -- (\pW{avs}{962.7});
\draw[gl,arr] (\pE{av3}{971.7}) -- (\pW{avs}{971.7});
\draw[ln,arr] (\pE{avs}{968.3}) -- (\pW{av5}{968.3});
\draw[gl,arr] (\pW{av4}{913.3}) -- (\pE{avp}{913.3});
\draw[ln,arr] (\pS{avr}{916.3}) -- (\pN{avp}{916.3});
\draw[ln,arr] (\pE{avf}{870}) -- (\pW{avr}{870});
\draw[ln,arr] (\pW{avd}{823.3}) -- (\pE{avf}{823.3});
\draw[ln,arr] (\pW{avd}{841}) -- (\pE{avf}{841});
\draw[ln,arr] (\pE{avq}{832}) -- (\pW{avf}{832});
\draw[gl,rc,arr] (\pN{avc}{834.3}) -- (834.3,869.3) -- (\pW{avf}{869.3});
\draw[ln,rc] (\pS{avf}{872.3}) -- (872.3,890.7) -- (\pE{avc}{890.7});
\lb{840}{855}{D24--D31}\lb{840.7}{861}{A0--A21}\lb{840}{910.3}{D24--D31}\lb{839.3}{916}{A/WR--A0}
% I/O connectors
\draw[ln,rc,arr] (\pE{ioc1}{712.7}) -- (1098,712.7) -- (1098,984.5) -- (\pW{i8}{984.5});
\draw[ln,arr] (1098,730.5) -- (\pW{i1}{730.5});
\draw[ln,arr] (1098,764.5) -- (\pW{i2}{764.5});
\draw[ln,arr] (1098,800.8) -- (\pW{i3}{800.8});
\draw[ln,arr] (1098,837.5) -- (\pW{i4}{837.5});
\draw[ln,arr] (1098,874.2) -- (\pW{i5}{874.2});
\draw[ln,arr] (1098,910.9) -- (\pW{i6}{910.9});
\draw[ln,arr] (1098,947.6) -- (\pW{i7}{947.6});
\draw[ln,rc,arr] (\pE{ioc2}{743.3}) -- (1084.3,743.3) -- (1084.3,1056.7) -- (\pW{i10}{1056.7});
\draw[ln,arr] (1084.3,1021) -- (\pW{i9}{1021});
\draw[ln,rc,arr] (\pE{ioc3}{977}) -- (1072.7,977) -- (1072.7,1130) -- (\pW{i12}{1130});
\draw[ln,arr] (1072.7,1094) -- (\pW{i11}{1094});
\end{tikzpicture}
\end{document}
